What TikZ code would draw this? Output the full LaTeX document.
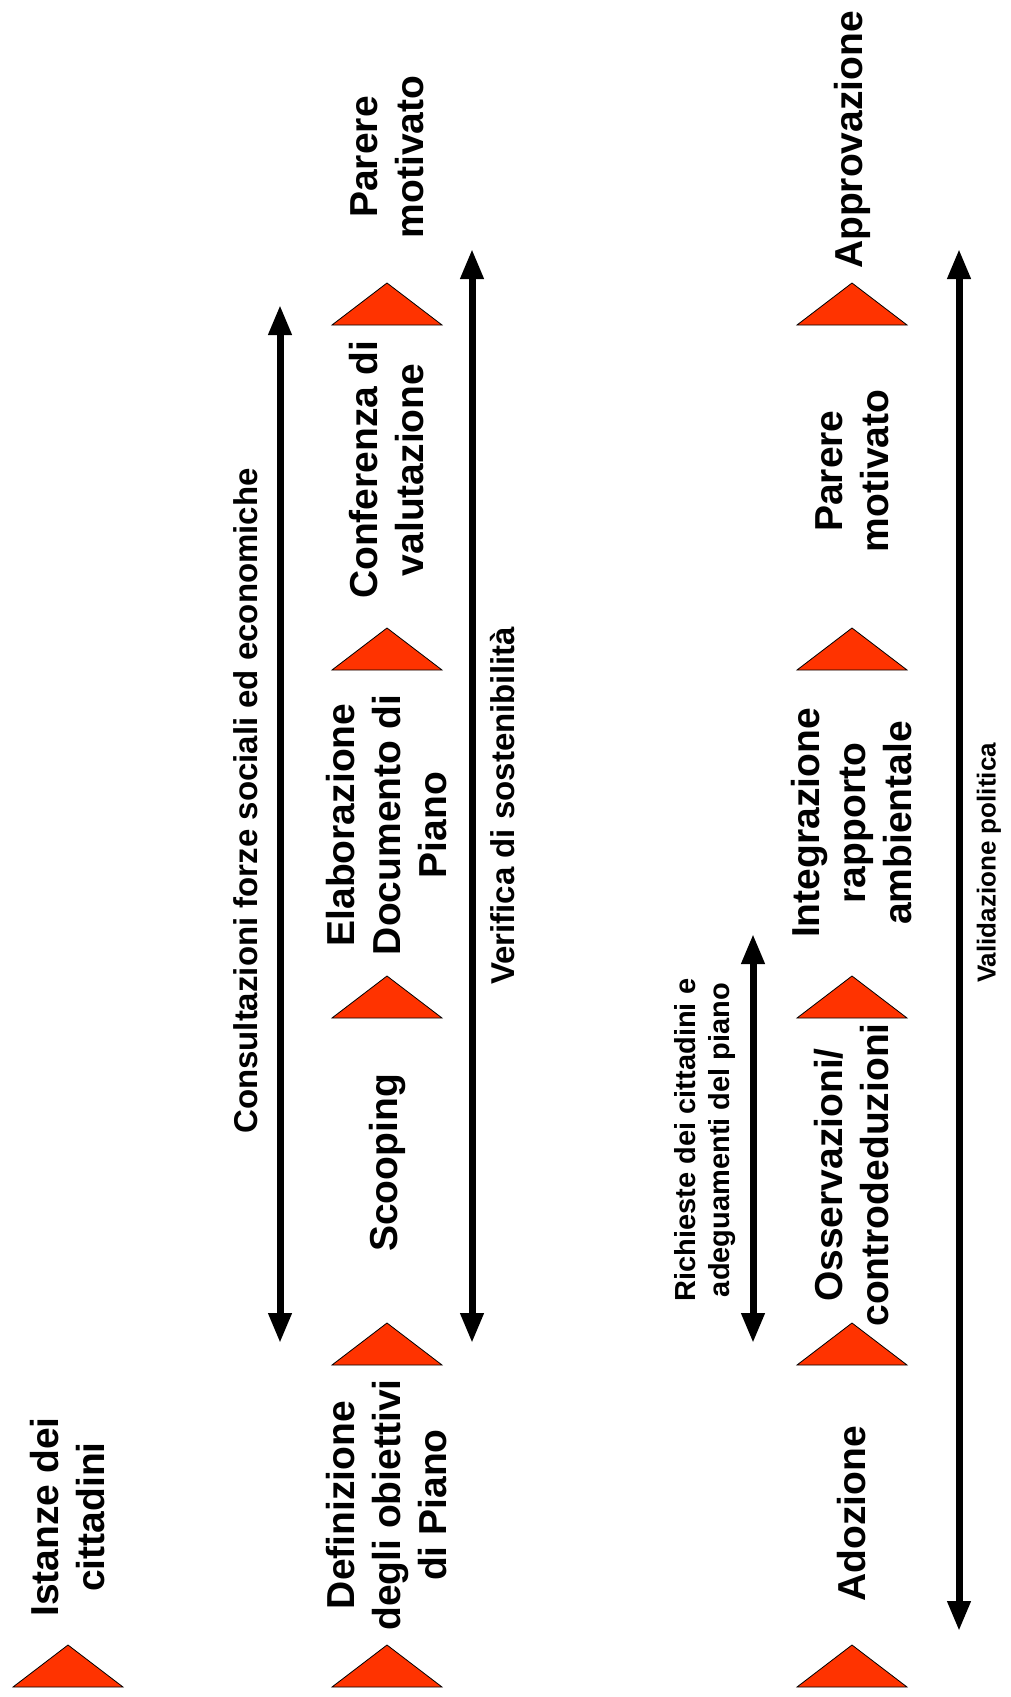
\documentclass[tikz,border=0pt]{standalone}
\usepackage{fontspec}
\setmainfont{Liberation Sans}
\usetikzlibrary{arrows.meta}
\definecolor{MarkerRed}{HTML}{FF3300}
\definecolor{Ink}{HTML}{000000}

\begin{document}
\begin{tikzpicture}[x=1pt,y=-1pt,
    phase/.style={rotate=90,align=center,text=Ink,font=\fontsize{39}{46}\selectfont\bfseries},
    spanlab/.style={rotate=90,align=center,text=Ink,font=\fontsize{33}{39}\selectfont\bfseries},
    bar/.style={draw=Ink,line width=7pt,{Triangle[length=30pt,width=22pt]}-{Triangle[length=30pt,width=22pt]}}]
  \useasboundingbox (0,0) rectangle (1011,1697);
  \foreach \x/\b in {68/1687,
      387/325,387/670,387/1018,387/1365,387/1687,
      852/325,852/670,852/1018,852/1365,852/1687}
  {
  \filldraw[fill=MarkerRed,draw=Ink,line width=0.8pt] (\x-55,\b) -- (\x,\b-42) -- (\x+55,\b) -- cycle;
  }
  \foreach \n/\x/\y/\lab in {
      istanze/68/1517/{Istanze dei\\cittadini},
      definizione/387/1505/{Definizione\\degli obiettivi\\di Piano},
      scooping/387/1163/{Scooping},
      elaborazione/387/825/{Elaborazione\\Documento di\\Piano},
      conferenza/387/470/{Conferenza di\\valutazione},
      parereA/387/157/{Parere\\motivato},
      adozione/852/1514/{Adozione},
      osservazioni/852/1175/{Osservazioni/\\controdeduzioni},
      integrazione/852/823/{Integrazione\\rapporto\\ambientale},
      parereB/852/471/{Parere\\motivato},
      approvazione/852/140/{Approvazione}}
  {
  \node[phase] (\n) at (\x,\y) {\lab};
  }
  \coordinate (consTop) at (280,305);
  \coordinate (consBot) at (280,1343);
  \coordinate (verTop) at (472,249);
  \coordinate (verBot) at (472,1343);
  \coordinate (richTop) at (753,934);
  \coordinate (richBot) at (753,1343);
  \coordinate (valTop) at (959,249);
  \coordinate (valBot) at (959,1631);
  \draw[bar] (consTop) -- (consBot);
  \draw[bar] (verTop) -- (verBot);
  \draw[bar] (richTop) -- (richBot);
  \draw[bar] (valTop) -- (valBot);
  \node[spanlab] (consLab) at (246,801) {Consultazioni forze sociali ed economiche};
  \node[spanlab] (verLab) at (503,806) {Verifica di sostenibilità};
  \node[spanlab,font=\fontsize{29}{34}\selectfont\bfseries] (richLab) at (705,1140) {Richieste dei cittadini e\\adeguamenti del piano};
  \node[spanlab,font=\fontsize{26}{31}\selectfont\bfseries] (valLab) at (989,863) {Validazione politica};
\end{tikzpicture}
\end{document}
